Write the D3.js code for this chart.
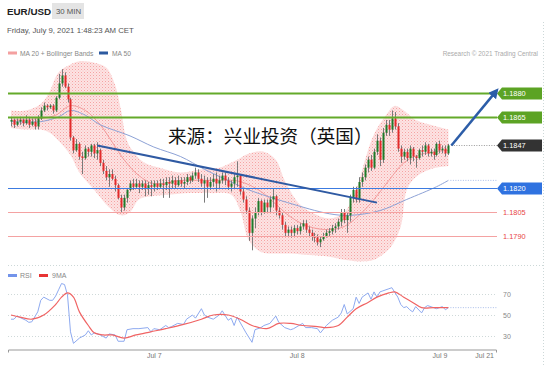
<!DOCTYPE html>
<html lang="en">
<head>
<meta charset="utf-8">
<title>EUR/USD 30 MIN</title>
<script src="https://cdn.jsdelivr.net/npm/d3@7"></script>
<style>
  body { margin: 0; background: #fff; }
  svg { display: block; font-family: "Liberation Sans", Arial, sans-serif; }
  .axis path, .axis line { stroke: #999; }
  .axis text { fill: #777; font-size: 7px; }
</style>
</head>
<body>
<script>
// 30-minute bars [open, high, low, close], starting Jul 6 2021 00:00
var candles = [
  [1.1862,1.1865,1.1859,1.1863],[1.1863,1.1864,1.1858,1.1860],[1.1860,1.1864,1.1859,1.1862],[1.1862,1.1865,1.1860,1.1863],
  [1.1863,1.1864,1.1859,1.1861],[1.1861,1.1866,1.1860,1.1863],[1.1863,1.1865,1.1858,1.1860],[1.1860,1.1864,1.1859,1.1862],
  [1.1862,1.1864,1.1857,1.1859],[1.1859,1.1866,1.1857,1.1864],[1.1864,1.1871,1.1863,1.1869],[1.1869,1.1874,1.1868,1.1872],
  [1.1872,1.1873,1.1869,1.1871],[1.1871,1.1873,1.1870,1.1872],[1.1872,1.1873,1.1867,1.1869],[1.1869,1.1878,1.1868,1.1877],
  [1.1877,1.1892,1.1876,1.1886],[1.1886,1.1895,1.1884,1.1891],[1.1891,1.1893,1.1883,1.1884],[1.1884,1.1886,1.1874,1.1876],
  [1.1876,1.1877,1.1850,1.1852],[1.1852,1.1853,1.1842,1.1844],[1.1844,1.1851,1.1843,1.1848],[1.1848,1.1849,1.1838,1.1840],
  [1.1840,1.1843,1.1829,1.1839],[1.1839,1.1847,1.1838,1.1845],[1.1845,1.1846,1.1840,1.1843],[1.1843,1.1848,1.1840,1.1847],
  [1.1847,1.1848,1.1839,1.1842],[1.1842,1.1849,1.1838,1.1844],[1.1844,1.1845,1.1834,1.1836],[1.1836,1.1838,1.1829,1.1831],
  [1.1831,1.1834,1.1825,1.1827],[1.1827,1.1832,1.1821,1.1829],[1.1829,1.1832,1.1825,1.1826],[1.1826,1.1828,1.1818,1.1822],
  [1.1822,1.1823,1.1813,1.1814],[1.1814,1.1816,1.1805,1.1808],[1.1808,1.1816,1.1806,1.1814],[1.1814,1.1820,1.1811,1.1819],
  [1.1819,1.1825,1.1818,1.1823],[1.1823,1.1826,1.1819,1.1821],[1.1821,1.1826,1.1820,1.1823],[1.1823,1.1825,1.1817,1.1821],
  [1.1821,1.1825,1.1819,1.1823],[1.1823,1.1825,1.1815,1.1820],[1.1820,1.1824,1.1816,1.1822],[1.1822,1.1825,1.1815,1.1821],
  [1.1821,1.1825,1.1818,1.1823],[1.1823,1.1825,1.1819,1.1821],[1.1821,1.1826,1.1820,1.1823],[1.1823,1.1826,1.1814,1.1822],
  [1.1822,1.1827,1.1819,1.1824],[1.1824,1.1827,1.1814,1.1823],[1.1823,1.1828,1.1820,1.1825],[1.1825,1.1827,1.1820,1.1822],
  [1.1822,1.1828,1.1821,1.1825],[1.1825,1.1827,1.1821,1.1823],[1.1823,1.1827,1.1820,1.1824],[1.1824,1.1829,1.1822,1.1827],
  [1.1827,1.1828,1.1823,1.1825],[1.1825,1.1830,1.1824,1.1828],[1.1828,1.1833,1.1826,1.1830],[1.1830,1.1832,1.1824,1.1826],
  [1.1826,1.1829,1.1821,1.1823],[1.1823,1.1828,1.1811,1.1825],[1.1825,1.1827,1.1814,1.1821],[1.1821,1.1827,1.1819,1.1824],
  [1.1824,1.1829,1.1821,1.1826],[1.1826,1.1830,1.1818,1.1823],[1.1823,1.1828,1.1820,1.1825],[1.1825,1.1830,1.1823,1.1828],
  [1.1828,1.1830,1.1822,1.1825],[1.1825,1.1827,1.1819,1.1821],[1.1821,1.1825,1.1818,1.1823],[1.1823,1.1829,1.1820,1.1827],
  [1.1827,1.1837,1.1821,1.1828],[1.1828,1.1829,1.1816,1.1818],[1.1818,1.1820,1.1811,1.1813],[1.1813,1.1815,1.1804,1.1806],
  [1.1806,1.1808,1.1787,1.1792],[1.1792,1.1803,1.1781,1.1801],[1.1801,1.1808,1.1795,1.1805],[1.1805,1.1814,1.1803,1.1812],
  [1.1812,1.1813,1.1803,1.1805],[1.1805,1.1813,1.1804,1.1811],[1.1811,1.1813,1.1805,1.1808],[1.1808,1.1815,1.1805,1.1813],
  [1.1813,1.1820,1.1808,1.1815],[1.1815,1.1816,1.1803,1.1806],[1.1806,1.1808,1.1801,1.1803],[1.1803,1.1805,1.1794,1.1797],
  [1.1797,1.1799,1.1790,1.1792],[1.1792,1.1796,1.1790,1.1794],[1.1794,1.1796,1.1789,1.1792],[1.1792,1.1797,1.1790,1.1795],
  [1.1795,1.1797,1.1791,1.1793],[1.1793,1.1798,1.1791,1.1796],[1.1796,1.1800,1.1794,1.1798],[1.1798,1.1800,1.1792,1.1794],
  [1.1794,1.1796,1.1790,1.1792],[1.1792,1.1794,1.1787,1.1790],[1.1790,1.1792,1.1786,1.1789],[1.1789,1.1791,1.1784,1.1786],
  [1.1786,1.1790,1.1783,1.1788],[1.1788,1.1792,1.1787,1.1790],[1.1790,1.1794,1.1789,1.1792],[1.1792,1.1795,1.1790,1.1793],
  [1.1793,1.1797,1.1791,1.1795],[1.1795,1.1798,1.1792,1.1796],[1.1796,1.1801,1.1794,1.1799],[1.1799,1.1807,1.1796,1.1805],
  [1.1805,1.1807,1.1798,1.1800],[1.1800,1.1805,1.1792,1.1803],[1.1803,1.1816,1.1799,1.1814],[1.1814,1.1821,1.1811,1.1819],
  [1.1819,1.1821,1.1811,1.1813],[1.1813,1.1827,1.1811,1.1824],[1.1824,1.1830,1.1821,1.1827],[1.1827,1.1835,1.1825,1.1833],
  [1.1833,1.1840,1.1830,1.1838],[1.1838,1.1841,1.1831,1.1833],[1.1833,1.1845,1.1832,1.1843],[1.1843,1.1854,1.1841,1.1850],
  [1.1850,1.1852,1.1834,1.1838],[1.1838,1.1858,1.1836,1.1855],[1.1855,1.1863,1.1853,1.1860],[1.1860,1.1863,1.1853,1.1857],
  [1.1857,1.1869,1.1855,1.1864],[1.1864,1.1868,1.1857,1.1859],[1.1859,1.1861,1.1843,1.1845],[1.1845,1.1847,1.1836,1.1840],
  [1.1840,1.1845,1.1838,1.1843],[1.1843,1.1845,1.1837,1.1839],[1.1839,1.1847,1.1835,1.1845],[1.1845,1.1846,1.1837,1.1840],
  [1.1840,1.1841,1.1833,1.1839],[1.1839,1.1845,1.1838,1.1844],[1.1844,1.1847,1.1840,1.1843],[1.1843,1.1849,1.1841,1.1847],
  [1.1847,1.1848,1.1840,1.1842],[1.1842,1.1845,1.1840,1.1843],[1.1843,1.1845,1.1838,1.1841],[1.1841,1.1849,1.1840,1.1848],
  [1.1848,1.1850,1.1842,1.1844],[1.1844,1.1847,1.1842,1.1845],[1.1845,1.1847,1.1840,1.1842],[1.1842,1.1848,1.1841,1.1847]
];

// indicator readings as [bar index, value]
var bbUpper = [[0,1.1869],[5,1.1869],[10,1.1873],[13,1.1881],[16,1.1893],[20,1.1898],[23,1.1900],[28,1.1899],[32,1.1896],
  [35,1.1885],[37,1.1869],[39,1.1850],[42,1.1841],[45,1.1836],[50,1.1833],[57,1.1830],[64,1.1832],[70,1.1833],[75,1.1837],
  [80,1.1842],[85,1.1843],[89,1.1838],[92,1.1825],[97,1.1810],[102,1.1804],[107,1.1801],[112,1.1805],[116,1.1819],
  [119,1.1838],[122,1.1854],[126,1.1866],[129,1.1872],[132,1.1869],[136,1.1863],[141,1.1860],[147,1.1857]];
var bbLower = [[0,1.1858],[5,1.1857],[10,1.1857],[13,1.1855],[16,1.1850],[20,1.1841],[23,1.1830],[28,1.1819],[33,1.1808],
  [37,1.1803],[40,1.1805],[43,1.1813],[47,1.1815],[53,1.1816],[60,1.1817],[67,1.1817],[74,1.1816],[77,1.1806],[80,1.1787],
  [84,1.1780],[89,1.1779],[94,1.1779],[100,1.1778],[107,1.1777],[112,1.1775],[117,1.1774],[122,1.1775],[126,1.1780],
  [128,1.1784],[131,1.1796],[133,1.1819],[136,1.1827],[141,1.1832],[147,1.1834]];
var ma20 = [[0,1.1863],[10,1.1864],[15,1.1866],[20,1.1872],[25,1.1869],[30,1.1860],[33,1.1852],[38,1.1838],[43,1.1828],
  [48,1.1823],[57,1.1825],[67,1.1825],[75,1.1825],[79,1.1823],[84,1.1818],[89,1.1810],[94,1.1802],[100,1.1796],[107,1.1794],
  [112,1.1796],[117,1.1803],[122,1.1813],[127,1.1825],[132,1.1836],[137,1.1841],[147,1.1844]];
var ma50 = [[0,1.1862],[10,1.1862],[16,1.1865],[20,1.1869],[25,1.1866],[30,1.1860],[40,1.1853],[48,1.1846],[57,1.1840],
  [65,1.1832],[74,1.1824],[80,1.1819],[93,1.1811],[107,1.1804],[114,1.1803],[124,1.1806],[133,1.1813],[143,1.1821],[147,1.1825]];

var rsi = [[0,46],[1,46],[2,49],[5,45],[6,43],[7,43.5],[9,53],[10,64],[11,67],[13,64],[14,64],[15,68],[16,74],[17,80],[18,79],
  [19,69],[20,34],[21,23],[23,28],[25,31],[26,35],[27,31],[28,33],[30,31],[32,28],[33,32],[35,31],[36,25],[38,25],[39,36],
  [41,37],[43,37],[46,38],[47,34],[48,37],[50,36],[52,40],[53,38],[54,39],[56,42],[58,41],[59,46],[61,50],[62,47],[64,56],
  [65,50],[66,48],[68,46],[70,50],[71,54],[73,45],[74,47],[75,40],[76,48],[78,38],[79,33],[81,24],[82,36],[84,38],[85,40],
  [87,42],[89,49],[90,43],[92,38],[94,36],[95,37],[98,42],[99,38],[101,38],[103,37],[104,33],[106,40],[108,45],[110,48],
  [111,52],[112,60],[113,51],[115,56],[116,67],[117,61],[118,67],[120,71],[121,65],[122,72],[123,67],[124,72],[125,73],
  [127,75],[128,76],[130,67],[131,60],[132,57],[133,58],[134,55],[135,53],[136,58],[138,52],[139,57],[140,59],[142,57],
  [143,56],[145,58],[146,55],[147,57]];
var rsiMa = [[0,50],[3,48],[7,46],[11,50],[15,60],[17,67],[19,71],[21,67],[23,53],[26,40],[28,33],[31,31],[34,31],[38,28],
  [42,31],[47,34],[52,37],[58,41],[64,46],[68,50],[73,50],[77,46],[81,40],[86,37],[90,42],[94,42],[98,40],[103,39],[106,38],
  [110,40],[113,48],[116,56],[120,62],[123,67],[127,71],[129,72],[132,67],[135,62],[138,57],[142,57],[147,57]];

var levels = [1.1880, 1.1865, 1.1847, 1.1820, 1.1805, 1.1790];
var levelKinds = ["resistance", "resistance", "last", "pivot", "support", "support"];
var rsiTicks = [70, 50, 30];
var trendLine = [[29, 1.1847], [123, 1.1811]];
var targetArrow = [[148, 1.1847], [163, 1.1881]];
var dateTicks = [Date.UTC(2021,6,7), Date.UTC(2021,6,8), Date.UTC(2021,6,9), Date.UTC(2021,6,9,7,30)];
var dateTickLabels = ["Jul 7", "Jul 8", "Jul 9", "Jul 21"];
var watermark = "来源：兴业投资（英国）";

var w = 553, h = 366;
var left = 8, right = 497;
var start = Date.UTC(2021, 6, 6);
var barMs = 30 * 60 * 1000;
function t(i) { return new Date(start + i * barMs); }

var x = d3.scaleUtc()
  .domain([new Date(Date.UTC(2021,6,5,23,30)), new Date(Date.UTC(2021,6,9,9,30))])
  .range([left, right - 1]);
var y = d3.scaleLinear().domain([1.1790, 1.1880]).range([236, 93]);
var yr = d3.scaleLinear().domain([30, 70]).range([336, 294]);

var svg = d3.select("body").append("svg").attr("width", w).attr("height", h);
var defs = svg.append("defs");

var pat = defs.append("pattern").attr("id", "dots").attr("width", 3).attr("height", 3)
  .attr("patternUnits", "userSpaceOnUse");
pat.append("rect").attr("width", 3).attr("height", 3).attr("fill", "#fde3e3");
pat.append("rect").attr("x", 0).attr("y", 0).attr("width", 1).attr("height", 1).attr("fill", "#f5a3a3");
pat.append("rect").attr("x", 1.5).attr("y", 1.5).attr("width", 1).attr("height", 1).attr("fill", "#f8c0c0");

defs.append("marker").attr("id", "head").attr("viewBox", "0 0 10 10").attr("refX", 6).attr("refY", 5)
  .attr("markerWidth", 4).attr("markerHeight", 4).attr("orient", "auto")
  .append("path").attr("d", "M0,0L10,5L0,10Z").attr("fill", "#2c5da8");

defs.append("clipPath").attr("id", "priceClip").append("rect")
  .attr("x", left).attr("y", 60).attr("width", right - left).attr("height", 204);

// header
svg.append("text").attr("x", 7).attr("y", 15).attr("font-size", 9.8).attr("font-weight", "bold")
  .attr("fill", "#222").text("EUR/USD");
svg.append("rect").attr("x", 52).attr("y", 3).attr("width", 32).attr("height", 16).attr("fill", "#e4e4e4");
svg.append("text").attr("x", 56).attr("y", 14).attr("font-size", 7.8).attr("fill", "#555").text("30 MIN");
svg.append("text").attr("x", 7).attr("y", 33).attr("font-size", 7.8).attr("fill", "#555")
  .text("Friday, July 9, 2021 1:48:23 AM CET");

// legend
svg.append("rect").attr("x", 8).attr("y", 51.5).attr("width", 9).attr("height", 3).attr("fill", "#f4a0a0");
svg.append("text").attr("x", 20).attr("y", 55.5).attr("font-size", 6.7).attr("fill", "#888").text("MA 20 + Bollinger Bands");
svg.append("rect").attr("x", 99).attr("y", 51.5).attr("width", 9).attr("height", 3).attr("fill", "#2c5aa0");
svg.append("text").attr("x", 112).attr("y", 55.5).attr("font-size", 6.7).attr("fill", "#888").text("MA 50");
svg.append("text").attr("x", 538).attr("y", 56).attr("text-anchor", "end").attr("font-size", 6.4)
  .attr("fill", "#aaa").text("Research © 2021 Trading Central");

// frame lines
svg.append("line").attr("x1", 543.5).attr("x2", 543.5).attr("y1", 22).attr("y2", h)
  .attr("stroke", "#cdd8d8").attr("stroke-dasharray", "1,2");
svg.append("line").attr("x1", left).attr("x2", 543).attr("y1", 265.5).attr("y2", 265.5)
  .attr("stroke", "#cdd8d8").attr("stroke-dasharray", "1,2");

var price = svg.append("g").attr("clip-path", "url(#priceClip)");

// bollinger band
var bandLine = d3.line().x(function(d) { return x(t(d[0])); }).y(function(d) { return y(d[1]); })
  .curve(d3.curveCatmullRom);
var upPath = bandLine(bbUpper);
var lowPath = bandLine(bbLower.slice().reverse());
price.append("path").attr("d", upPath + "L" + lowPath.slice(1) + "Z").attr("fill", "url(#dots)");

// level lines
var levelStyle = {
  resistance: { line: "#64aa2a", width: 2, box: "#5ca324", text: "#fff" },
  last: { line: null, width: 0, box: "#333", text: "#fff" },
  pivot: { line: "#3c7be0", width: 1.2, box: "#2f72e0", text: "#fff" },
  support: { line: "#f4a2a2", width: 1.2, box: null, text: "#e84545" }
};
levels.forEach(function(v, k) {
  var s = levelStyle[levelKinds[k]];
  var yy = Math.round(y(v)) + 0.5;
  if (s.line) {
    svg.append("line").attr("x1", left).attr("x2", right).attr("y1", yy).attr("y2", yy)
      .attr("stroke", s.line).attr("stroke-width", s.width);
  }
  if (s.box) {
    svg.append("path")
      .attr("d", "M" + right + "," + yy + "L" + (right + 5) + "," + (yy - 6) + "L542," + (yy - 6) +
        "L542," + (yy + 6) + "L" + (right + 5) + "," + (yy + 6) + "Z")
      .attr("fill", s.box);
  }
  svg.append("text").attr("x", 503).attr("y", yy + 2.6).attr("font-size", 7.4).attr("fill", s.text)
    .text(v.toFixed(4));
});

// moving averages
var maLine = d3.line().x(function(d) { return x(t(d[0])); }).y(function(d) { return y(d[1]); })
  .curve(d3.curveCatmullRom);
price.append("path").attr("d", maLine(ma20)).attr("fill", "none").attr("stroke", "#f39a9a").attr("stroke-width", 1);
price.append("path").attr("d", maLine(ma50)).attr("fill", "none").attr("stroke", "#8da2d6").attr("stroke-width", 1);

// dotted continuations
var lastMa = ma50[ma50.length - 1];
svg.append("line").attr("x1", x(t(lastMa[0])) + 2).attr("x2", right).attr("y1", y(lastMa[1])).attr("y2", y(lastMa[1]))
  .attr("stroke", "#a9bde8").attr("stroke-dasharray", "1,1.5");
svg.append("line").attr("x1", x(t(candles.length))).attr("x2", right).attr("y1", Math.round(y(1.1847)) + 0.5)
  .attr("y2", Math.round(y(1.1847)) + 0.5).attr("stroke", "#999").attr("stroke-dasharray", "1,1.5");

// candles
var cg = price.append("g");
cg.selectAll("line").data(candles).enter().append("line")
  .attr("x1", function(d, i) { return Math.round(x(t(i))) + 0.5; })
  .attr("x2", function(d, i) { return Math.round(x(t(i))) + 0.5; })
  .attr("y1", function(d) { return y(d[1]); })
  .attr("y2", function(d) { return y(d[2]); })
  .attr("stroke", "#7a7a7a").attr("stroke-width", 1);
cg.selectAll("rect").data(candles).enter().append("rect")
  .attr("x", function(d, i) { return Math.round(x(t(i))) - 0.5; })
  .attr("width", 2)
  .attr("y", function(d) { return y(Math.max(d[0], d[3])); })
  .attr("height", function(d) { return Math.max(1, Math.abs(y(d[0]) - y(d[3]))); })
  .attr("fill", function(d) { return d[3] >= d[0] ? "#1f7a2a" : "#e22a2a"; });

// trend line and target arrow
var ptLine = d3.line().x(function(d) { return x(t(d[0])); }).y(function(d) { return y(d[1]); });
svg.append("path").attr("d", ptLine(trendLine)).attr("stroke", "#2f5aa3").attr("stroke-width", 2).attr("fill", "none");
svg.append("path").attr("d", ptLine(targetArrow)).attr("stroke", "#2c5da8").attr("stroke-width", 2.5)
  .attr("fill", "none").attr("marker-end", "url(#head)");

// watermark
svg.append("text").attr("x", 168).attr("y", 143).attr("font-size", 18.6)
  .attr("font-family", "'Noto Sans CJK SC', sans-serif").attr("fill", "#111").text(watermark);

// RSI panel
svg.append("rect").attr("x", 8).attr("y", 274).attr("width", 9).attr("height", 3).attr("fill", "#7394ea");
svg.append("text").attr("x", 20).attr("y", 277.5).attr("font-size", 7).attr("fill", "#888").text("RSI");
svg.append("rect").attr("x", 39).attr("y", 274).attr("width", 9).attr("height", 3).attr("fill", "#e83434");
svg.append("text").attr("x", 52).attr("y", 277.5).attr("font-size", 7).attr("fill", "#888").text("9MA");

rsiTicks.forEach(function(v) {
  var yy = Math.round(yr(v)) + 0.5;
  svg.append("line").attr("x1", left).attr("x2", right).attr("y1", yy).attr("y2", yy)
    .attr("stroke", "#cfd9d9").attr("stroke-dasharray", "1,2");
  svg.append("text").attr("x", 503).attr("y", yy + 2.5).attr("font-size", 7).attr("fill", "#888").text(v);
});

var rLine = d3.line().x(function(d) { return x(t(d[0])); }).y(function(d) { return yr(d[1]); });
svg.append("path").attr("d", rLine(rsi)).attr("fill", "none").attr("stroke", "#8eaaf0").attr("stroke-width", 1);
svg.append("path").attr("d", rLine.curve(d3.curveCatmullRom)(rsiMa)).attr("fill", "none")
  .attr("stroke", "#f06464").attr("stroke-width", 1.2);
var lastR = rsi[rsi.length - 1];
svg.append("line").attr("x1", x(t(lastR[0])) + 2).attr("x2", right).attr("y1", yr(lastR[1])).attr("y2", yr(lastR[1]))
  .attr("stroke", "#a9bde8").attr("stroke-dasharray", "1,1.5");

// time axis
var xAxis = d3.axisBottom(x)
  .tickValues(dateTicks.map(function(d) { return new Date(d); }))
  .tickFormat(function(d, i) { return dateTickLabels[i]; })
  .tickSizeInner(0).tickSizeOuter(3).tickPadding(4);
svg.append("g").attr("class", "axis").attr("transform", "translate(0,349.5)").call(xAxis);

</script>
</body>
</html>
